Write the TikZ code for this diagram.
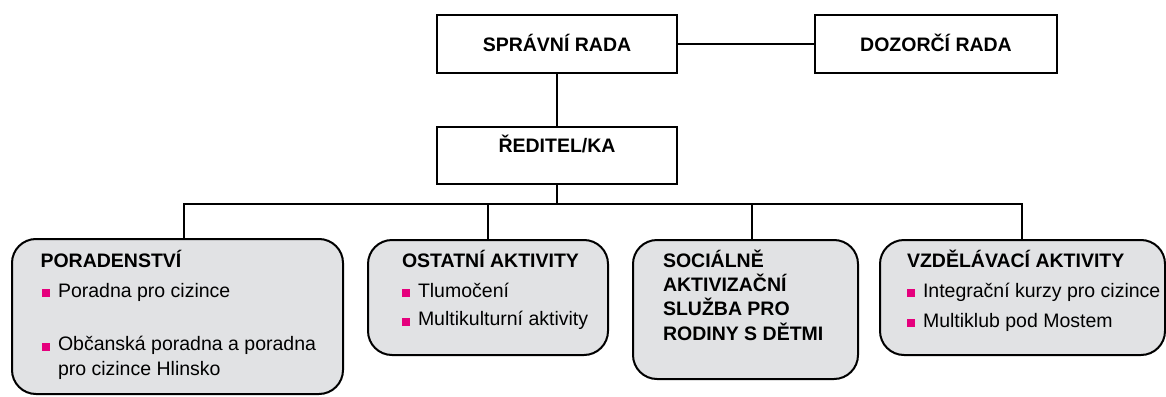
\documentclass[tikz,border=0pt]{standalone}
\usepackage{fontspec}
\setmainfont{Liberation Sans}
\definecolor{boxgray}{HTML}{E1E2E4}
\definecolor{bulmag}{HTML}{E5007D}
\newcommand{\bulsq}{\textcolor{bulmag}{\rule{8pt}{8pt}}\hspace{8pt}}
\begin{document}
\begin{tikzpicture}[x=1pt,y=-1pt,
  font=\fontsize{19.5}{24}\selectfont,
  plainbox/.style={draw=black, line width=2pt, fill=white, inner sep=0pt},
  actbox/.style={draw=black, line width=2pt, fill=boxgray, rounded corners=24pt, inner sep=0pt},
  txt/.style={anchor=base west, inner sep=0pt, outer sep=0pt},
  ttl/.style={txt, font=\fontsize{19.5}{24}\selectfont\bfseries},
  cttl/.style={anchor=base, inner sep=0pt, outer sep=0pt, font=\fontsize{19.5}{24}\selectfont\bfseries},
  link/.style={draw=black, line width=2pt}]
\useasboundingbox (0,0) rectangle (1166,396);

% top boxes
\node[plainbox, minimum width=240pt, minimum height=58pt] (sr) at (557,44) {};
\node[plainbox, minimum width=242pt, minimum height=58pt] (dr) at (936,44) {};
\node[plainbox, minimum width=240pt, minimum height=57pt] (red) at (557,155.5) {};
\node[cttl] (srt) at (557,51.5) {SPRÁVNÍ RADA};
\node[cttl] (drt) at (936,51.5) {DOZORČÍ RADA};
\node[cttl] (redt) at (557,152.5) {ŘEDITEL/KA};

% activity boxes
\node[actbox, minimum width=331pt, minimum height=155pt] (por) at (177.5,316.5) {};
\node[actbox, minimum width=240pt, minimum height=115pt] (ost) at (488,297.5) {};
\node[actbox, minimum width=225pt, minimum height=139pt] (soc) at (745.5,309.5) {};
\node[actbox, minimum width=285pt, minimum height=115pt] (vzd) at (1022.5,297.5) {};

% connectors
\coordinate (bus) at (557,204);
\coordinate (b1) at (184,204);
\coordinate (b2) at (488,204);
\coordinate (b3) at (752,204);
\coordinate (b4) at (1022,204);
\draw[link] (sr.east) -- (dr.west);
\draw[link] (sr.south) -- (red.north);
\draw[link] (red.south) -- (bus);
\draw[link] (b1 |- por.north) -- (b1) -- (b4) -- (b4 |- vzd.north);
\draw[link] (b2) -- (b2 |- ost.north);
\draw[link] (b3) -- (b3 |- soc.north);

% PORADENSTVI
\node[ttl] (port) at (40.5,267) {PORADENSTVÍ};
\node[txt] (por1) at (42,297) {\bulsq Poradna pro cizince};
\node[txt] (por2) at (42,350.5) {\bulsq Občanská poradna a poradna};
\node[txt] (por3) at (58,375) {pro cizince Hlinsko};

% OSTATNI
\node[ttl] (ostt) at (402,267) {OSTATNÍ AKTIVITY};
\node[txt] (ost1) at (402,297) {\bulsq Tlumočení};
\node[txt] (ost2) at (402,325.5) {\bulsq Multikulturní aktivity};

% SOCIALNE
\node[ttl] (soc1) at (663,267) {SOCIÁLNĚ};
\node[ttl] (soc2) at (663,291.5) {AKTIVIZAČNÍ};
\node[ttl] (soc3) at (663,315.8) {SLUŽBA PRO};
\node[ttl] (soc4) at (663,340) {RODINY S DĚTMI};

% VZDELAVACI
\node[ttl] (vzdt) at (907,267) {VZDĚLÁVACÍ AKTIVITY};
\node[txt] (vzd1) at (907,297) {\bulsq Integrační kurzy pro cizince};
\node[txt] (vzd2) at (907,327) {\bulsq Multiklub pod Mostem};
\end{tikzpicture}
\end{document}
